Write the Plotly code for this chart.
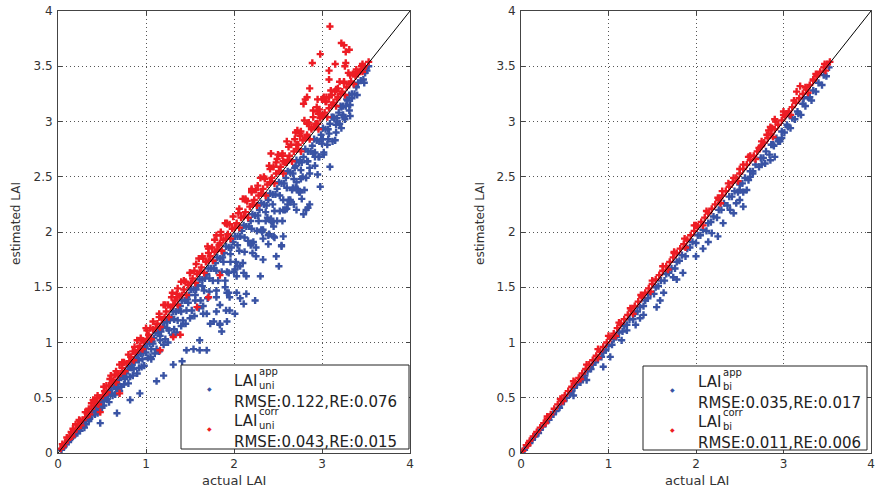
import plotly.graph_objects as go

# ---------------- data (actual LAI, estimated LAI) ----------------
uni_app = [
(0.04,0.03),(0.09,0.08),(0.14,0.13),(0.19,0.17),(0.24,0.22),(0.29,0.27),(0.34,0.32),(0.39,0.37),(0.44,0.42),(0.49,0.46),
(0.54,0.51),(0.59,0.56),(0.64,0.61),(0.69,0.66),(0.74,0.71),(0.79,0.75),(0.84,0.80),(0.89,0.85),(0.94,0.90),(0.99,0.95),
(1.04,0.99),(1.09,1.04),(1.14,1.09),(1.19,1.14),(1.24,1.19),(1.29,1.23),(1.34,1.28),(1.39,1.33),(1.44,1.38),(1.49,1.43),
(1.54,1.48),(1.59,1.52),(1.64,1.57),(1.69,1.62),(1.74,1.67),(1.79,1.72),(1.84,1.76),(1.89,1.81),(1.94,1.86),(1.99,1.91),
(2.04,1.96),(2.09,2.01),(2.14,2.05),(2.19,2.10),(2.24,2.15),(2.29,2.20),(2.34,2.25),(2.39,2.29),(2.44,2.34),(2.49,2.39),
(2.54,2.44),(2.59,2.49),(2.64,2.54),(2.69,2.58),(2.74,2.63),(2.79,2.68),(2.84,2.73),(2.89,2.78),(2.94,2.83),(2.99,2.88),
(3.04,2.93),(3.09,2.98),(3.14,3.03),(3.19,3.08),(3.24,3.14),(3.29,3.19),(3.34,3.25),(3.39,3.31),(3.44,3.37),(3.49,3.44),(3.53,3.50),
(0.06,0.05),(0.21,0.20),(0.31,0.30),(0.41,0.40),(0.51,0.50),(0.61,0.60),(0.71,0.69),(0.81,0.79),(0.91,0.89),(1.01,0.99),
(1.11,1.09),(1.21,1.18),(1.31,1.28),(1.41,1.38),(1.51,1.48),(1.61,1.57),(1.71,1.67),(1.81,1.77),(1.91,1.87),(2.01,1.96),
(2.11,2.06),(2.21,2.16),(2.31,2.26),(2.41,2.35),(2.51,2.45),(2.61,2.55),(2.71,2.65),(2.81,2.75),(2.91,2.84),(3.01,2.94),
(3.11,3.04),(3.21,3.14),(3.31,3.24),(3.41,3.35),(3.51,3.46),
(0.07,0.06),(0.17,0.15),(0.27,0.25),(0.37,0.34),(0.47,0.44),(0.57,0.53),(0.67,0.63),(0.77,0.72),(0.87,0.82),(0.97,0.91),
(1.07,1.01),(1.17,1.10),(1.27,1.20),(1.37,1.29),(1.47,1.39),(1.57,1.48),(1.67,1.58),(1.77,1.67),(1.87,1.77),(1.97,1.86),
(2.07,1.96),(2.17,2.05),(2.27,2.15),(2.37,2.24),(2.47,2.34),(2.57,2.44),(2.67,2.53),(2.77,2.63),(2.87,2.73),(2.97,2.82),
(3.07,2.93),(3.17,3.03),(3.27,3.14),(3.37,3.25),(3.47,3.38),
(0.12,0.10),(0.20,0.18),(0.28,0.25),(0.36,0.32),(0.44,0.39),(0.52,0.47),(0.60,0.54),(0.68,0.62),(0.76,0.69),(0.84,0.77),
(0.92,0.84),(1.00,0.91),(1.08,0.99),(1.16,1.06),(1.24,1.13),(1.32,1.21),(1.40,1.28),(1.48,1.36),(1.56,1.43),(1.64,1.51),
(1.72,1.58),(1.80,1.65),(1.88,1.73),(1.96,1.80),(2.04,1.88),(2.12,1.95),(2.20,2.03),(2.28,2.10),(2.36,2.18),(2.44,2.25),
(2.52,2.33),(2.60,2.40),(2.68,2.48),(2.76,2.56),(2.84,2.64),(2.92,2.72),(3.00,2.80),(3.08,2.89),(3.16,2.97),(3.24,3.06),
(3.32,3.15),(3.40,3.24),(3.48,3.35),
(0.16,0.14),(0.26,0.23),(0.36,0.31),(0.46,0.41),(0.56,0.49),(0.66,0.58),(0.76,0.67),(0.86,0.76),(0.96,0.85),(1.06,0.94),
(1.16,1.02),(1.26,1.11),(1.36,1.20),(1.46,1.29),(1.56,1.38),(1.66,1.47),(1.76,1.56),(1.86,1.64),(1.96,1.73),(2.06,1.83),
(2.16,1.92),(2.26,2.01),(2.36,2.10),(2.46,2.19),(2.56,2.29),(2.66,2.38),(2.76,2.48),(2.86,2.58),(2.96,2.68),(3.06,2.79),
(3.16,2.90),(3.26,3.02),
(0.22,0.18),(0.32,0.26),(0.42,0.35),(0.52,0.43),(0.62,0.52),(0.72,0.60),(0.82,0.69),(0.92,0.77),(1.02,0.86),(1.12,0.94),
(1.22,1.03),(1.32,1.12),(1.42,1.20),(1.52,1.29),(1.62,1.38),(1.72,1.46),(1.82,1.56),(1.92,1.64),(2.02,1.73),(2.12,1.82),
(2.22,1.91),(2.32,2.00),(2.42,2.10),(2.52,2.19),(2.62,2.29),(2.72,2.39),(2.82,2.49),(2.92,2.60),(3.02,2.70),(3.12,2.82),
(3.22,2.94),(3.32,3.05),
(0.25,0.20),(0.35,0.29),(0.50,0.41),(0.65,0.53),(0.75,0.62),(0.85,0.70),(0.95,0.78),(1.05,0.87),(1.10,0.90),(1.20,0.98),
(1.30,1.07),(1.40,1.15),(1.50,1.22),(1.60,1.31),(1.70,1.40),(1.80,1.47),(1.90,1.56),(2.00,1.64),(2.10,1.72),(2.25,1.86),
(2.40,1.98),(2.55,2.10),(2.68,2.25),(2.80,2.38),(2.95,2.52),
(0.30,0.23),(0.45,0.36),(0.58,0.46),(0.70,0.56),(0.80,0.63),(0.90,0.72),(0.98,0.79),(1.06,0.85),(1.15,0.92),(1.25,1.00),
(1.35,1.09),(1.45,1.17),(1.55,1.24),(1.65,1.33),
(0.67,0.36),(0.48,0.27),(0.82,0.48),(0.93,0.54),(1.12,0.65),(1.20,0.70),(1.31,0.80),(1.41,0.83),(1.46,0.93),(1.54,0.94),
(1.61,0.93),(1.69,0.93),(1.61,1.02),(1.86,1.10),(1.84,1.16),(1.77,1.19),(1.92,1.19),(1.69,1.26),(1.80,1.28),(1.95,1.29),
(2.01,1.26),(1.92,1.45),(2.07,1.69),(1.80,1.41),(1.84,1.34),(1.91,1.29),(1.65,1.26),(1.73,1.17),(1.84,1.17),
(1.90,1.50),(1.94,1.45),(1.95,1.41),(2.03,1.45),(2.14,1.44),(2.07,1.40),(2.24,1.38),(2.11,1.35),
(2.04,1.69),(1.94,1.63),(2.01,1.66),(2.11,1.63),(2.14,1.60),(2.30,1.60),(2.03,1.60),
(2.20,1.90),(2.21,1.81),(2.25,1.78),(2.48,1.78),(2.33,1.75),(2.51,1.69),
(2.38,2.13),(2.43,2.09),(2.45,2.05),(2.33,2.02),(2.45,1.96),(2.56,1.96),(2.39,1.89),(2.54,1.88),
(2.78,2.50),(2.67,2.40),(2.75,2.36),(2.77,2.30),(2.56,2.20),(2.60,2.21),(2.64,2.29),(2.71,2.20),(2.79,2.16),
(2.31,2.02),(2.33,1.94),(2.39,1.97),(2.46,1.95),(2.54,1.87),(2.19,1.88),(2.42,2.12),(2.49,2.10),
(3.09,2.59),(3.15,2.83),(3.07,2.84),(3.01,2.84),(2.97,2.68),(3.02,2.72),(2.90,2.71),(2.92,2.68),(2.75,2.65),(2.83,2.64),
(2.70,2.60),(2.86,2.53),(2.98,2.41),(2.71,2.45),(2.70,2.40),(2.74,2.36),(2.86,2.25),(2.84,2.22),(2.82,2.20),(2.64,2.27),
(2.61,2.25),(2.58,2.20),
(3.13,3.04),(3.17,3.00),(3.20,2.98),(3.25,3.04),(3.31,3.10),(3.28,3.20),(3.34,3.21),(3.22,3.13),
]

uni_corr = [
(0.03,0.04),(0.08,0.09),(0.13,0.15),(0.18,0.19),(0.23,0.25),(0.28,0.30),(0.33,0.36),(0.38,0.40),(0.43,0.46),(0.48,0.50),
(0.53,0.56),(0.58,0.61),(0.63,0.66),(0.68,0.70),(0.73,0.77),(0.78,0.81),(0.83,0.87),(0.88,0.91),(0.93,0.97),(0.98,1.01),
(1.03,1.07),(1.08,1.12),(1.13,1.17),(1.18,1.21),(1.23,1.28),(1.28,1.32),(1.33,1.38),(1.38,1.42),(1.43,1.48),(1.48,1.52),
(1.53,1.58),(1.58,1.62),(1.63,1.68),(1.68,1.73),(1.73,1.78),(1.78,1.82),(1.83,1.88),(1.88,1.93),(1.93,1.98),(1.98,2.03),
(2.03,2.08),(2.08,2.13),(2.13,2.18),(2.18,2.23),(2.23,2.29),(2.28,2.33),(2.33,2.39),(2.38,2.43),(2.43,2.49),(2.48,2.53),
(2.53,2.59),(2.58,2.63),(2.63,2.69),(2.68,2.73),(2.73,2.79),(2.78,2.83),(2.83,2.88),(2.88,2.93),(2.93,2.98),(2.98,3.03),
(3.03,3.08),(3.08,3.12),(3.13,3.17),(3.18,3.22),(3.23,3.27),(3.28,3.31),(3.33,3.36),(3.38,3.41),(3.43,3.45),(3.48,3.50),(3.53,3.54),
(0.11,0.12),(0.21,0.22),(0.31,0.32),(0.41,0.43),(0.51,0.52),(0.61,0.63),(0.71,0.72),(0.81,0.83),(0.91,0.93),(1.01,1.03),
(1.11,1.13),(1.21,1.23),(1.31,1.34),(1.41,1.43),(1.51,1.54),(1.61,1.64),(1.71,1.74),(1.81,1.84),(1.91,1.94),(2.01,2.04),
(2.11,2.14),(2.21,2.25),(2.31,2.35),(2.41,2.45),(2.51,2.55),(2.61,2.65),(2.71,2.75),(2.81,2.85),(2.91,2.95),(3.01,3.05),
(3.11,3.15),(3.21,3.25),(3.31,3.34),(3.41,3.44),
(0.05,0.08),(0.15,0.19),(0.25,0.29),(0.35,0.40),(0.45,0.50),(0.55,0.61),(0.65,0.71),(0.75,0.82),(0.85,0.92),(0.95,1.02),
(1.05,1.13),(1.15,1.23),(1.25,1.34),(1.35,1.44),(1.45,1.55),(1.55,1.65),(1.65,1.76),(1.75,1.86),(1.85,1.97),(1.95,2.07),
(2.05,2.17),(2.15,2.28),(2.25,2.38),(2.35,2.48),(2.45,2.59),(2.55,2.69),(2.65,2.79),(2.75,2.89),(2.85,2.99),(2.95,3.09),
(3.05,3.18),(3.15,3.27),(3.25,3.35),(3.35,3.43),(3.45,3.50),
(0.10,0.14),(0.17,0.22),(0.24,0.30),(0.31,0.37),(0.38,0.45),(0.45,0.52),(0.52,0.60),(0.59,0.67),(0.66,0.74),(0.73,0.82),
(0.80,0.89),(0.87,0.96),(0.94,1.04),(1.01,1.11),(1.08,1.19),(1.15,1.26),(1.22,1.34),(1.29,1.41),(1.36,1.49),(1.43,1.56),
(1.50,1.63),(1.57,1.71),(1.64,1.78),(1.71,1.85),(1.78,1.93),(1.85,2.00),(1.92,2.07),(1.99,2.14),(2.06,2.21),(2.13,2.29),
(2.20,2.36),(2.27,2.42),(2.34,2.50),(2.41,2.57),(2.48,2.63),(2.55,2.71),(2.62,2.77),(2.69,2.84),(2.76,2.91),(2.83,2.98),
(2.90,3.04),(2.97,3.11),(3.04,3.18),(3.11,3.24),(3.18,3.30),(3.25,3.36),(3.32,3.42),(3.39,3.47),(3.46,3.52),
(0.20,0.26),(0.40,0.48),(0.60,0.70),(0.70,0.80),(0.90,1.02),(1.00,1.13),(1.20,1.34),(1.30,1.45),(1.40,1.55),(1.60,1.76),
(1.70,1.87),(1.80,1.97),(1.90,2.08),(2.10,2.30),(2.30,2.49),(2.40,2.60),(2.50,2.70),(2.60,2.82),(2.70,2.90),(2.80,3.01),
(2.90,3.10),(3.00,3.20),(3.10,3.28),(3.20,3.36),(3.30,3.44),
(0.06,0.06),(0.16,0.15),(0.26,0.25),(0.36,0.35),(0.46,0.44),(0.56,0.55),(0.66,0.64),(0.76,0.74),(0.86,0.84),(0.96,0.94),
(1.06,1.03),(1.16,1.14),(1.26,1.23),(1.36,1.34),(1.46,1.43),(1.56,1.54),(1.66,1.63),(1.76,1.74),(1.86,1.83),(1.96,1.94),
(2.06,2.04),(2.16,2.13),(2.26,2.24),(2.36,2.33),(2.46,2.44),(2.56,2.53),(2.66,2.64),(2.76,2.73),(2.86,2.84),(2.96,2.93),
(3.06,3.04),(3.16,3.14),(3.26,3.24),(3.36,3.34),(3.46,3.45),
(1.84,1.61),(1.39,1.07),(1.58,1.32),(1.71,1.41),(1.31,1.05),(1.16,0.93),(0.48,0.37),(0.70,0.54),
(3.09,3.86),(3.22,3.71),(3.25,3.69),(3.31,3.65),(3.27,3.63),(2.98,3.61),(2.89,3.53),(3.15,3.52),(3.27,3.53),(3.26,3.50),
(3.08,3.46),(3.08,3.38),(2.86,3.30),(2.83,3.22),(2.81,3.20),(2.79,3.16),(2.95,3.20),(3.02,3.22),(3.08,3.22),(3.16,3.29),
(3.17,3.20),(2.94,3.13),(2.72,2.92),(2.75,2.87),(2.71,2.79),(2.42,2.71),(2.49,2.66),(2.60,2.63),(2.20,2.39),
(2.56,2.64),(2.20,2.38),(2.13,2.30),(1.92,2.08),(1.71,1.81),(1.84,1.90),(1.50,1.63),(1.35,1.41),(3.39,3.45),(3.47,3.48),
(3.05,3.22),(2.95,2.98),(2.88,2.95),(2.96,3.07),(2.83,2.86),
]

bi_app = [
(0.04,0.03),(0.10,0.09),(0.16,0.15),(0.22,0.21),(0.28,0.27),(0.34,0.33),(0.40,0.38),(0.46,0.44),(0.52,0.50),(0.58,0.56),
(0.64,0.62),(0.70,0.68),(0.76,0.74),(0.82,0.80),(0.88,0.85),(0.94,0.91),(1.00,0.97),(1.06,1.03),(1.12,1.09),(1.18,1.15),
(1.24,1.21),(1.30,1.26),(1.36,1.32),(1.42,1.38),(1.48,1.44),(1.54,1.50),(1.60,1.56),(1.66,1.62),(1.72,1.67),(1.78,1.73),
(1.84,1.79),(1.90,1.85),(1.96,1.91),(2.02,1.97),(2.08,2.02),(2.14,2.08),(2.20,2.14),(2.26,2.20),(2.32,2.26),(2.38,2.32),
(2.44,2.37),(2.50,2.43),(2.56,2.49),(2.62,2.55),(2.68,2.61),(2.74,2.67),(2.80,2.73),(2.86,2.79),(2.92,2.85),(2.98,2.91),
(3.04,2.97),(3.10,3.03),(3.16,3.09),(3.22,3.16),(3.28,3.22),(3.34,3.28),(3.40,3.35),(3.46,3.42),(3.52,3.49),
(0.13,0.12),(0.25,0.24),(0.37,0.35),(0.49,0.47),(0.61,0.59),(0.73,0.70),(0.85,0.82),(0.97,0.93),(1.09,1.05),(1.21,1.16),
(1.33,1.28),(1.45,1.40),(1.57,1.51),(1.69,1.63),(1.81,1.74),(1.93,1.86),(2.05,1.97),(2.17,2.09),(2.29,2.20),(2.41,2.32),
(2.53,2.44),(2.65,2.55),(2.77,2.67),(2.89,2.78),(3.01,2.90),(3.13,3.02),(3.25,3.14),(3.37,3.27),(3.49,3.41),
(0.20,0.18),(0.32,0.30),(0.44,0.41),(0.56,0.53),(0.68,0.64),(0.80,0.76),(0.92,0.87),(1.04,0.98),(1.16,1.10),(1.28,1.21),
(1.40,1.33),(1.52,1.44),(1.64,1.56),(1.76,1.67),(1.88,1.78),(2.00,1.90),(2.12,2.01),(2.24,2.13),(2.36,2.24),(2.48,2.36),
(2.60,2.47),(2.72,2.59),(2.84,2.70),(2.96,2.82),(3.08,2.94),(3.20,3.06),(3.32,3.19),(3.44,3.33),
(3.07,3.06),(3.17,3.07),(3.05,2.95),(2.98,2.85),(2.94,2.82),(2.88,2.79),(2.90,2.68),(2.85,2.65),(2.79,2.62),(2.75,2.61),
(2.65,2.53),(2.62,2.50),(2.58,2.38),(2.54,2.36),(2.50,2.38),(2.50,2.29),(2.54,2.23),(2.46,2.26),(2.43,2.17),(2.39,2.20),
(2.31,2.08),(2.25,1.96),(3.23,3.21),(3.30,3.22),(2.18,1.99),(2.14,1.91),(2.08,1.85),(2.00,1.78),(1.85,1.63),(1.78,1.57),
(1.74,1.59),(1.63,1.45),(1.59,1.38),(1.55,1.32),(1.40,1.25),(1.36,1.22),(1.31,1.16),(1.21,1.11),(1.15,1.02),(1.02,0.87),
(0.94,0.78),(0.60,0.52),(0.75,0.66),
]

bi_corr = [
(0.02,0.02),(0.06,0.07),(0.10,0.11),(0.14,0.15),(0.18,0.19),(0.22,0.23),(0.26,0.27),(0.30,0.31),(0.34,0.35),(0.38,0.40),
(0.42,0.44),(0.46,0.48),(0.50,0.52),(0.54,0.56),(0.58,0.60),(0.62,0.64),(0.66,0.68),(0.70,0.72),(0.74,0.76),(0.78,0.80),
(0.82,0.84),(0.86,0.88),(0.90,0.92),(0.94,0.96),(0.98,1.00),(1.02,1.04),(1.06,1.08),(1.10,1.13),(1.14,1.17),(1.18,1.21),
(1.22,1.25),(1.26,1.29),(1.30,1.33),(1.34,1.37),(1.38,1.41),(1.42,1.45),(1.46,1.49),(1.50,1.53),(1.54,1.57),(1.58,1.61),
(1.62,1.65),(1.66,1.69),(1.70,1.73),(1.74,1.77),(1.78,1.81),(1.82,1.85),(1.86,1.89),(1.90,1.93),(1.94,1.97),(1.98,2.01),
(2.02,2.05),(2.06,2.09),(2.10,2.13),(2.14,2.17),(2.18,2.21),(2.22,2.25),(2.26,2.29),(2.30,2.33),(2.34,2.37),(2.38,2.41),
(2.42,2.45),(2.46,2.49),(2.50,2.53),(2.54,2.57),(2.58,2.61),(2.62,2.65),(2.66,2.69),(2.70,2.73),(2.74,2.77),(2.78,2.81),
(2.82,2.85),(2.86,2.89),(2.90,2.93),(2.94,2.97),(2.98,3.01),(3.02,3.05),(3.06,3.09),(3.10,3.13),(3.14,3.17),(3.18,3.21),
(3.22,3.25),(3.26,3.29),(3.30,3.33),(3.34,3.37),(3.38,3.41),(3.42,3.45),(3.46,3.49),(3.50,3.52),(3.53,3.54),
(0.30,0.33),(0.45,0.49),(0.60,0.65),(0.75,0.80),(0.88,0.94),(1.00,1.06),(1.12,1.18),(1.25,1.31),(1.37,1.43),(1.50,1.56),
(1.62,1.69),(1.75,1.81),(1.87,1.94),(2.00,2.06),(2.12,2.19),(2.25,2.31),(2.37,2.44),(2.50,2.57),(2.62,2.69),(2.75,2.82),
(2.87,2.94),(3.00,3.06),(3.12,3.19),(3.25,3.31),(3.37,3.43),(3.47,3.52),
(0.08,0.07),(0.28,0.27),(0.48,0.47),(0.68,0.67),(0.88,0.86),(1.08,1.06),(1.28,1.26),(1.48,1.46),(1.68,1.66),(1.88,1.86),
(2.08,2.06),(2.28,2.26),(2.48,2.46),(2.68,2.66),(2.88,2.86),(3.08,3.06),(3.28,3.26),(3.48,3.46),
(3.00,3.09),(3.04,3.07),(2.90,3.02),(2.91,3.00),(2.85,2.95),(2.83,2.92),(2.81,2.88),(2.75,2.78),(2.72,2.76),(2.54,2.61),
(2.43,2.49),(3.15,3.27),(3.19,3.32),(3.34,3.38),(2.60,2.68),(2.30,2.37),(1.98,2.06),(1.75,1.82),
]

ref_line = [0, 4]
x_ticks = [0, 1, 2, 3, 4]
y_ticks = [0, 0.5, 1, 1.5, 2, 2.5, 3, 3.5, 4]
y_tick_text = ["0", "0.5", "1", "1.5", "2", "2.5", "3", "3.5", "4"]

legend_uni = [("app", "uni", "RMSE:0.122,RE:0.076"), ("corr", "uni", "RMSE:0.043,RE:0.015")]
legend_bi = [("app", "bi", "RMSE:0.035,RE:0.017"), ("corr", "bi", "RMSE:0.011,RE:0.006")]

BLUE = "#3953a4"
RED = "#ed1c24"
W, H = 875, 493
FONT = "DejaVu Sans"

def px(x):
    return x / W

def py(y):
    return 1 - y / H

fig = go.Figure()

def add_series(points, color, xa, ya):
    xs = [p[0] for p in points]
    ys = [p[1] for p in points]
    fig.add_trace(go.Scatter(x=xs, y=ys, mode="markers", xaxis=xa, yaxis=ya,
                             marker=dict(symbol="cross", size=6, color=color, line=dict(width=0)),
                             showlegend=False, hoverinfo="skip"))

add_series(uni_app, BLUE, "x", "y")
add_series(uni_corr, RED, "x", "y")
fig.add_trace(go.Scatter(x=ref_line, y=ref_line, mode="lines", xaxis="x", yaxis="y",
                         line=dict(color="black", width=1), showlegend=False, hoverinfo="skip"))
add_series(bi_app, BLUE, "x2", "y2")
add_series(bi_corr, RED, "x2", "y2")
fig.add_trace(go.Scatter(x=ref_line, y=ref_line, mode="lines", xaxis="x2", yaxis="y2",
                         line=dict(color="black", width=1), showlegend=False, hoverinfo="skip"))

common_x = dict(range=[0, 4], tickvals=x_ticks, ticktext=[str(v) for v in x_ticks],
                ticks="inside", ticklen=4, tickcolor="#444", showline=True, linecolor="#444",
                linewidth=1, mirror="allticks", showgrid=True, gridcolor="#555",
                griddash="1px,3px", gridwidth=1, zeroline=False, automargin=False,
                ticklabeloverflow="allow",
                tickfont=dict(family=FONT, size=12, color="#333"))
common_y = dict(range=[0, 4], tickvals=y_ticks, ticktext=y_tick_text,
                ticks="inside", ticklen=4, tickcolor="#444", showline=True, linecolor="#444",
                linewidth=1, mirror="allticks", showgrid=True, gridcolor="#555",
                griddash="1px,3px", gridwidth=1, zeroline=False, ticklabelstandoff=2,
                automargin=False, ticklabeloverflow="allow",
                tickfont=dict(family=FONT, size=12, color="#333"))

ydom = [1 - 453 / H, 1 - 11 / H]
fig.update_layout(
    width=W, height=H, margin=dict(l=0, r=0, t=0, b=0, autoexpand=False),
    paper_bgcolor="white", plot_bgcolor="white", showlegend=False,
    xaxis=dict(domain=[58 / W, 410 / W], anchor="y", **common_x),
    yaxis=dict(domain=ydom, anchor="x", **common_y),
    xaxis2=dict(domain=[521 / W, 871 / W], anchor="y2", **common_x),
    yaxis2=dict(domain=ydom, anchor="x2", **common_y),
)

shapes = []
annotations = []

def add_text(x, y, text, size, color="#222", xanchor="left", angle=0):
    annotations.append(dict(x=px(x), y=py(y), xref="paper", yref="paper", text=text,
                            showarrow=False, xanchor=xanchor, yanchor="middle", textangle=angle,
                            borderpad=0, font=dict(family=FONT, size=size, color=color)))

# axis titles
for cx in [16, 480]:
    add_text(cx, 224, "estimated LAI", 12, color="#333", xanchor="center", angle=-90)
for ax_mid in [234, 697]:
    add_text(ax_mid, 480, "actual LAI", 13, color="#333", xanchor="center")

# legends
for (bx0, bx1, by0, by1, mx, tx, entries) in [
    (181, 409, 365, 449, 209, 233, legend_uni),
    (643, 867, 366, 450, 672, 697, legend_bi),
]:
    shapes.append(dict(type="rect", xref="paper", yref="paper", x0=px(bx0), x1=px(bx1),
                       y0=py(by1), y1=py(by0), fillcolor="white",
                       line=dict(color="#222", width=1), layer="above"))
    dy = by0 - 365
    for i, (sup, sub, stat) in enumerate(entries):
        off = i * 40 + dy
        col = BLUE if i == 0 else RED
        add_text(mx, 388 + off, "◆", 6, color=col, xanchor="center")
        add_text(tx, 380.5 + off, "LAI", 15)
        add_text(tx + 25, 371.5 + off, sup, 10)
        add_text(tx + 25, 385.5 + off, sub, 10)
        add_text(tx, 401.5 + off, stat, 15)

fig.update_layout(shapes=shapes, annotations=annotations)
fig.write_html("out.html", config={"displayModeBar": False},
               post_script="document.body.style.margin='0px';document.body.style.padding='0px';")
